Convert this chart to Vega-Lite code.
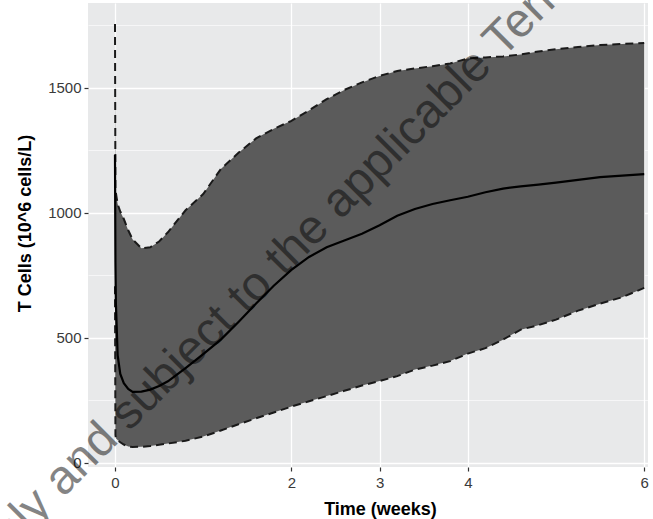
{
  "$schema": "https://vega.github.io/schema/vega-lite/v6.json",
  "width": 560,
  "height": 464,
  "autosize": {"type": "none"},
  "padding": {"left": 88, "top": 3, "right": 5, "bottom": 52},
  "background": "white",
  "config": {
    "view": {"fill": "#e8e9ea", "stroke": null},
    "font": "Liberation Sans",
    "axis": {
      "domain": false,
      "gridColor": "white",
      "tickColor": "#333333",
      "tickSize": 4,
      "tickWidth": 1.2,
      "labelColor": "#3a3a3a",
      "labelFontSize": 15,
      "labelFont": "Liberation Sans",
      "labelOverlap": false,
      "labelFlush": false,
      "titleFont": "Liberation Sans",
      "titleFontSize": 18,
      "titleFontWeight": "bold",
      "titleColor": "black"
    }
  },
  "data": {
    "values": [
      {"t": 0, "upper": 1756, "mean": 1231, "lower": 706},
      {"t": 0.005, "upper": 1100, "mean": 800, "lower": 110},
      {"t": 0.01, "upper": 1080, "mean": 640, "lower": 97},
      {"t": 0.03, "upper": 1035, "mean": 430, "lower": 90},
      {"t": 0.06, "upper": 1005, "mean": 355, "lower": 81},
      {"t": 0.1, "upper": 975, "mean": 318, "lower": 72},
      {"t": 0.15, "upper": 930, "mean": 295, "lower": 64},
      {"t": 0.2, "upper": 893, "mean": 283, "lower": 62},
      {"t": 0.3, "upper": 858, "mean": 284, "lower": 63},
      {"t": 0.4, "upper": 862, "mean": 292, "lower": 66},
      {"t": 0.5, "upper": 885, "mean": 306, "lower": 71},
      {"t": 0.6, "upper": 922, "mean": 325, "lower": 76},
      {"t": 0.8, "upper": 1010, "mean": 378, "lower": 87},
      {"t": 1.0, "upper": 1075, "mean": 434, "lower": 104},
      {"t": 1.2, "upper": 1175, "mean": 492, "lower": 128},
      {"t": 1.4, "upper": 1240, "mean": 563, "lower": 153},
      {"t": 1.6, "upper": 1298, "mean": 637, "lower": 177},
      {"t": 1.8, "upper": 1336, "mean": 708, "lower": 200},
      {"t": 2.0, "upper": 1368, "mean": 771, "lower": 224},
      {"t": 2.2, "upper": 1410, "mean": 823, "lower": 245},
      {"t": 2.4, "upper": 1455, "mean": 862, "lower": 266},
      {"t": 2.6, "upper": 1492, "mean": 889, "lower": 287},
      {"t": 2.8, "upper": 1522, "mean": 916, "lower": 308},
      {"t": 3.0, "upper": 1548, "mean": 950, "lower": 326},
      {"t": 3.2, "upper": 1568, "mean": 988, "lower": 346},
      {"t": 3.4, "upper": 1578, "mean": 1015, "lower": 372},
      {"t": 3.6, "upper": 1587, "mean": 1035, "lower": 388},
      {"t": 3.8, "upper": 1598, "mean": 1050, "lower": 406},
      {"t": 4.0, "upper": 1618, "mean": 1064, "lower": 436},
      {"t": 4.2, "upper": 1622, "mean": 1082, "lower": 458},
      {"t": 4.4, "upper": 1626, "mean": 1097, "lower": 492},
      {"t": 4.6, "upper": 1634, "mean": 1106, "lower": 532},
      {"t": 4.8, "upper": 1646, "mean": 1113, "lower": 550},
      {"t": 5.0, "upper": 1655, "mean": 1121, "lower": 572},
      {"t": 5.25, "upper": 1664, "mean": 1132, "lower": 608},
      {"t": 5.5, "upper": 1672, "mean": 1143, "lower": 636},
      {"t": 5.75, "upper": 1676, "mean": 1149, "lower": 662},
      {"t": 6.0, "upper": 1680, "mean": 1155, "lower": 699}
    ]
  },
  "layer": [
    {
      "mark": {"type": "area", "color": "#5b5b5b", "opacity": 1},
      "encoding": {
        "x": {
          "field": "t", "type": "quantitative",
          "scale": {"domain": [-0.306, 6.043], "nice": false, "zero": false},
          "axis": {
            "title": "Time (weeks)",
            "values": [0, 1, 2, 2.5, 3, 3.5, 4, 5, 6],
            "format": "d",
            "labelExpr": "indexof([0,2,3,4,6], datum.value) >= 0 ? datum.label : ''",
            "gridWidth": {"condition": {"test": "indexof([0,2,3,4,6], datum.value) >= 0", "value": 1.3}, "value": 0.6},
            "tickOpacity": {"condition": {"test": "indexof([0,2,3,4,6], datum.value) >= 0", "value": 1}, "value": 0},
            "labelPadding": 4,
            "titleX": 292,
            "titleY": 47,
            "titleBaseline": "alphabetic"
          }
        },
        "y": {
          "field": "lower", "type": "quantitative",
          "scale": {"domain": [-18, 1840], "nice": false, "zero": false},
          "axis": {
            "title": "T Cells (10^6 cells/L)",
            "values": [0, 250, 500, 750, 1000, 1250, 1500, 1750],
            "format": "d",
            "labelExpr": "datum.value % 500 === 0 ? datum.label : ''",
            "gridWidth": {"condition": {"test": "datum.value % 500 === 0", "value": 1.3}, "value": 0.6},
            "tickOpacity": {"condition": {"test": "datum.value % 500 === 0", "value": 1}, "value": 0},
            "labelPadding": 3,
            "titleAngle": 270,
            "titleX": -63,
            "titleY": 220,
            "titleBaseline": "middle",
            "titleAlign": "center"
          }
        },
        "y2": {"field": "upper"}
      }
    },
    {
      "mark": {"type": "line", "color": "#1a1a1a", "strokeWidth": 2, "strokeDash": [8, 5]},
      "encoding": {
        "x": {"field": "t", "type": "quantitative"},
        "y": {"field": "upper", "type": "quantitative"}
      }
    },
    {
      "mark": {"type": "line", "color": "#1a1a1a", "strokeWidth": 2, "strokeDash": [8, 5]},
      "encoding": {
        "x": {"field": "t", "type": "quantitative"},
        "y": {"field": "lower", "type": "quantitative"}
      }
    },
    {
      "mark": {"type": "line", "color": "black", "strokeWidth": 2.2},
      "encoding": {
        "x": {"field": "t", "type": "quantitative"},
        "y": {"field": "mean", "type": "quantitative"}
      }
    },
    {
      "data": {"values": [{"t": -1.40, "v": -429, "label": "only and subject to the applicable Terms of Use"}]},
      "mark": {"type": "text", "angle": -45, "align": "left", "baseline": "alphabetic", "fontSize": 48, "font": "Liberation Sans", "color": "black", "opacity": 0.48},
      "encoding": {
        "x": {"field": "t", "type": "quantitative", "scale": {"domain": [-0.306, 6.043], "nice": false, "zero": false}},
        "y": {"field": "v", "type": "quantitative", "scale": {"domain": [-18, 1840], "nice": false, "zero": false}},
        "text": {"field": "label"}
      }
    }
  ]
}
